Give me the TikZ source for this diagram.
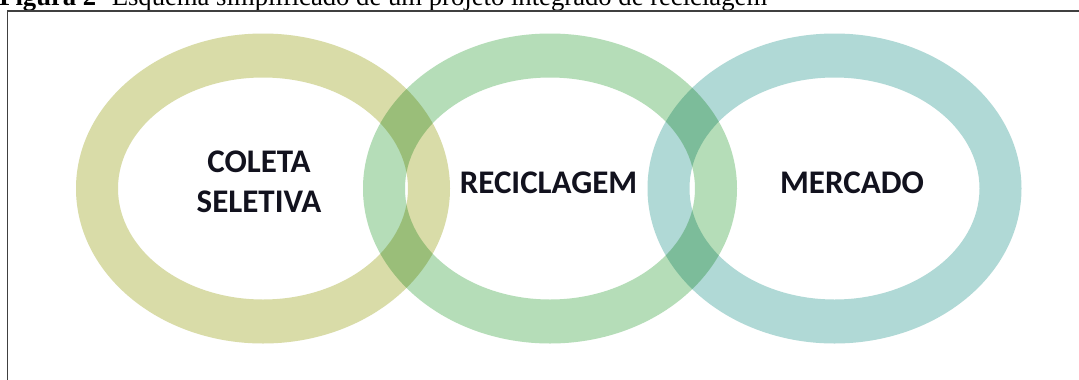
\documentclass[tikz,border=0pt]{standalone}
\usepackage{fontspec}
\setmainfont{Liberation Serif}
\newfontfamily\carl{Carlito}
\definecolor{ringA}{RGB}{217,220,168}
\definecolor{ringB}{RGB}{181,221,184}
\definecolor{ringC}{RGB}{176,217,214}
\definecolor{txt}{RGB}{18,18,30}
\tikzset{
  ringshape/.style={even odd rule, blend mode=multiply},
  label/.style={font=\carl\bfseries\fontsize{24.75}{30}\selectfont, text=txt, inner sep=0pt, align=center},
  frameline/.style={draw=black!75, line width=0.9pt}
}
\begin{document}
\begin{tikzpicture}[x=0.75pt,y=-0.75pt]
\useasboundingbox (0,0) rectangle (1079,379);
\clip (0,0) rectangle (1079,379);
\fill[white] (0,0) rectangle (1079,379);
% caption (cut off at the top)
\node[anchor=base west, inner sep=0pt, font=\fontsize{20}{24}\selectfont] (cap) at (-1,5.5)
  {\textbf{Figura 2}- Esquema simplificado de um projeto integrado de reciclagem};
% frame
\coordinate (fTL) at (7.5,11);
\coordinate (fBL) at (7.5,380);
\coordinate (fTR) at (1080,11);
\draw[frameline] (fBL) -- (fTL) -- (fTR);
% rings
\begin{scope}
\fill[ringA, ringshape] (263,188.5) ellipse [x radius=187, y radius=155]
                        (263,188.5) ellipse [x radius=145, y radius=111];
\fill[ringB, ringshape] (550,188.5) ellipse [x radius=187, y radius=155]
                        (550,188.5) ellipse [x radius=145, y radius=111];
\fill[ringC, ringshape] (834.5,188.5) ellipse [x radius=187, y radius=155]
                        (834.5,188.5) ellipse [x radius=145, y radius=111];
\end{scope}
% labels
\node[label] (coleta) at (259,182) {COLETA\\SELETIVA};
\node[label, anchor=base] (recic) at (548.5,193) {RECICLAGEM};
\node[label, anchor=base] (merc) at (852,193) {MERCADO};
\end{tikzpicture}
\end{document}
